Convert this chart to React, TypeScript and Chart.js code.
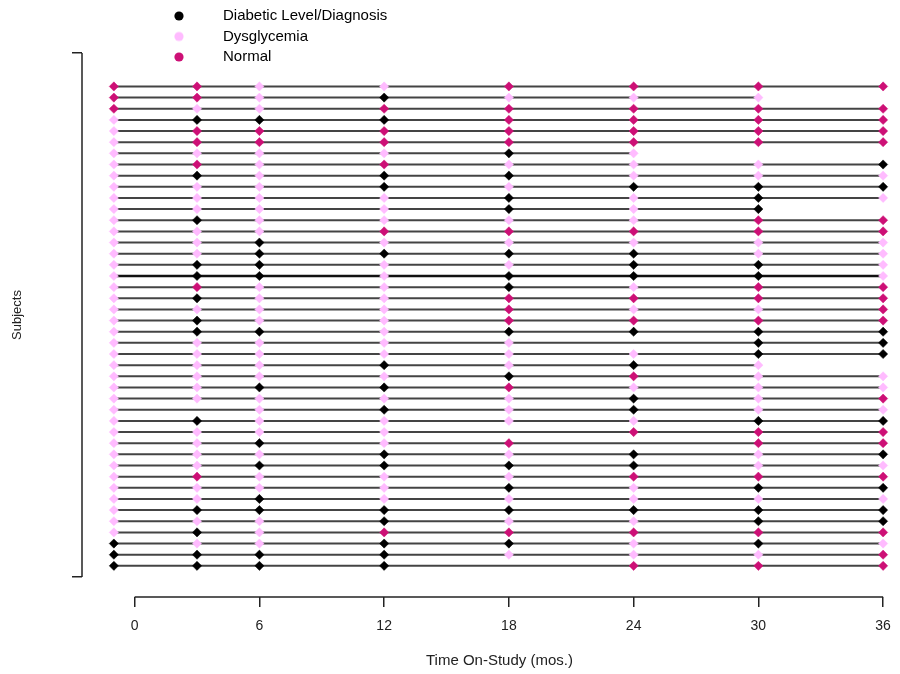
import React, { useEffect, useRef } from 'react';
import { Chart, registerables } from 'chart.js';

Chart.register(...registerables);

// ---- data ----
const visitMonths = [-1, 3, 6, 12, 18, 24, 30, 36];
const xTickValues = [0, 6, 12, 18, 24, 30, 36];
const yBracketValues = [0, 47];
const statusLabels = ['Diabetic Level/Diagnosis', 'Dysglycemia', 'Normal'];
const statusCodes = ['D', 'Y', 'N'];
const statusColors = ['#000000', '#FFBBFF', '#CD1076'];
// one string per subject (top row first); each character follows visitMonths; '-' = no visit
const subjectStatus = [
  'NNYYNNNN',
  'NNYDYYY-',
  'NYYNNNNN',
  'YDDDNNNN',
  'YNNNNNNN',
  'YNNNNNNN',
  'YYYYDY--',
  'YNYNYYYD',
  'YDYDDYYY',
  'YYYDYDDD',
  'YYYYDYDY',
  'YYYYDYD-',
  'YDYYYYNN',
  'YYYNNNNN',
  'YYDYYYYY',
  'YYDDDDYY',
  'YDDYYDDY',
  'YDDYDDDY',
  'YNYYDYNN',
  'YDYYNNNN',
  'YYYYNYYN',
  'YDYYNNNN',
  'YDDYDDDD',
  'YYYYY-DD',
  'YYYYYYDD',
  'YYYDYDY-',
  'YYYYDNYY',
  'YYDDNYYY',
  'YYYYYDYN',
  'Y-YDYDYY',
  'YDYYYYDD',
  'YYYY-NNN',
  'YYDYN-NN',
  'YYYDYDYD',
  'YYDDDDYY',
  'YNYYYNNN',
  'YYYYDYDD',
  'YYDYYYYY',
  'YDDDDDDD',
  'YYYDYYDD',
  'YDYNNNNN',
  'DYYDDYDY',
  'DDDDYYYN',
  'DDDD-NNN',
];
const heavyRows = [18];

const FONT = "'Liberation Sans', Arial, sans-serif";

const rAxisLines = {
  id: 'rAxisLines',
  afterLayout(chart: any) {
    const lg = chart.legend;
    if (lg) {
      const w = lg.width;
      const h = lg.height;
      lg.left = 166;
      lg.top = 3;
      lg.right = lg.left + w;
      lg.bottom = lg.top + h;
    }
  },
  afterDraw(chart: any) {
    const { ctx, chartArea } = chart;
    const xs = chart.scales.x;
    const ys = chart.scales.y;
    ctx.save();
    ctx.strokeStyle = '#222';
    ctx.lineWidth = 1.5;
    const yPix = chartArea.bottom;
    ctx.beginPath();
    ctx.moveTo(xs.getPixelForValue(xTickValues[0]), yPix);
    ctx.lineTo(xs.getPixelForValue(xTickValues[xTickValues.length - 1]), yPix);
    ctx.stroke();
    const xPix = chartArea.left;
    ctx.beginPath();
    ctx.moveTo(xPix, ys.getPixelForValue(yBracketValues[1]));
    ctx.lineTo(xPix, ys.getPixelForValue(yBracketValues[0]));
    ctx.stroke();
    ctx.restore();
  },
};

function makeMarker(color: string) {
  const c = document.createElement('canvas');
  c.width = 41;
  c.height = 12;
  const g = c.getContext('2d')!;
  g.fillStyle = color;
  g.beginPath();
  g.arc(6, 6, 4.6, 0, Math.PI * 2);
  g.fill();
  return c;
}

export default function App() {
  const ref = useRef<HTMLCanvasElement | null>(null);

  useEffect(() => {
    if (!ref.current) return;
    const n = subjectStatus.length;
    const datasets = subjectStatus.map((row, i) => {
      const pts: { x: number; y: number }[] = [];
      const cols: string[] = [];
      for (let k = 0; k < visitMonths.length; k++) {
        const ch = row[k];
        const idx = statusCodes.indexOf(ch);
        if (idx < 0) continue;
        pts.push({ x: visitMonths[k], y: n - i });
        cols.push(statusColors[idx]);
      }
      const heavy = heavyRows.includes(i + 1);
      return {
        label: `Subject ${i + 1}`,
        data: pts,
        showLine: true,
        borderColor: heavy ? '#111' : '#444',
        borderWidth: heavy ? 2.6 : 2,
        pointStyle: 'rectRot',
        pointRadius: 4.6,
        pointHoverRadius: 4.6,
        pointBackgroundColor: cols,
        pointBorderColor: cols,
        pointBorderWidth: 0.5,
        fill: false,
        tension: 0,
      };
    });
    const markers = statusColors.map((c) => makeMarker(c));

    const chart = new Chart(ref.current, {
      type: 'scatter',
      data: { datasets: datasets as any },
      options: {
        responsive: false,
        animation: false,
        devicePixelRatio: 1,
        events: [],
        layout: { padding: { top: 33, left: 0, right: 0, bottom: 0 } },
        scales: {
          x: {
            type: 'linear',
            min: -2.533,
            max: 37.625,
            bounds: 'data',
            afterBuildTicks: (s: any) => {
              s.ticks = xTickValues.map((v) => ({ value: v }));
            },
            afterFit: (s: any) => {
              s.height = 77;
            },
            ticks: {
              callback: (v: any) => String(v),
              color: '#222',
              font: { family: FONT, size: 14 },
              padding: 11,
              maxRotation: 0,
              autoSkip: false,
            },
            grid: { drawOnChartArea: false, drawTicks: true, tickLength: 10, color: '#222', lineWidth: 1.5 },
            border: { display: false },
            title: {
              display: true,
              text: 'Time On-Study (mos.)',
              color: '#222',
              font: { family: FONT, size: 15 },
              padding: { top: 0, bottom: 4 },
            },
          },
          y: {
            type: 'linear',
            min: -1.794,
            max: 48.794,
            bounds: 'data',
            afterBuildTicks: (s: any) => {
              s.ticks = yBracketValues.map((v) => ({ value: v }));
            },
            afterFit: (s: any) => {
              s.width = 82;
            },
            ticks: { display: false },
            grid: { drawOnChartArea: false, drawTicks: true, tickLength: 10, color: '#222', lineWidth: 1.5 },
            border: { display: false },
            title: {
              display: true,
              text: 'Subjects',
              color: '#222',
              font: { family: FONT, size: 13 },
              padding: { top: 10, bottom: 0 },
            },
          },
        },
        plugins: {
          legend: {
            position: 'chartArea',
            align: 'start',
            onClick: () => {},
            labels: {
              usePointStyle: true,
              pointStyleWidth: 44,
              boxWidth: 15,
              boxHeight: 15,
              padding: 5.5,
              color: '#222',
              font: { family: FONT, size: 15 },
              generateLabels: () =>
                statusLabels.map((t, i) => ({
                  text: t,
                  pointStyle: markers[i] as any,
                  fillStyle: statusColors[i],
                  strokeStyle: statusColors[i],
                  lineWidth: 0,
                  hidden: false,
                  datasetIndex: -1,
                })),
            },
          },
          tooltip: { enabled: false },
        },
      } as any,
      plugins: [rAxisLines],
    });
    return () => chart.destroy();
  }, []);

  return (
    <div
      style={{
        position: 'fixed',
        left: 0,
        top: 0,
        width: 900,
        height: 674,
        overflow: 'hidden',
        background: '#fff',
      }}
    >
      <canvas ref={ref} width={922} height={674} style={{ display: 'block', width: 922, height: 674 }} />
    </div>
  );
}
